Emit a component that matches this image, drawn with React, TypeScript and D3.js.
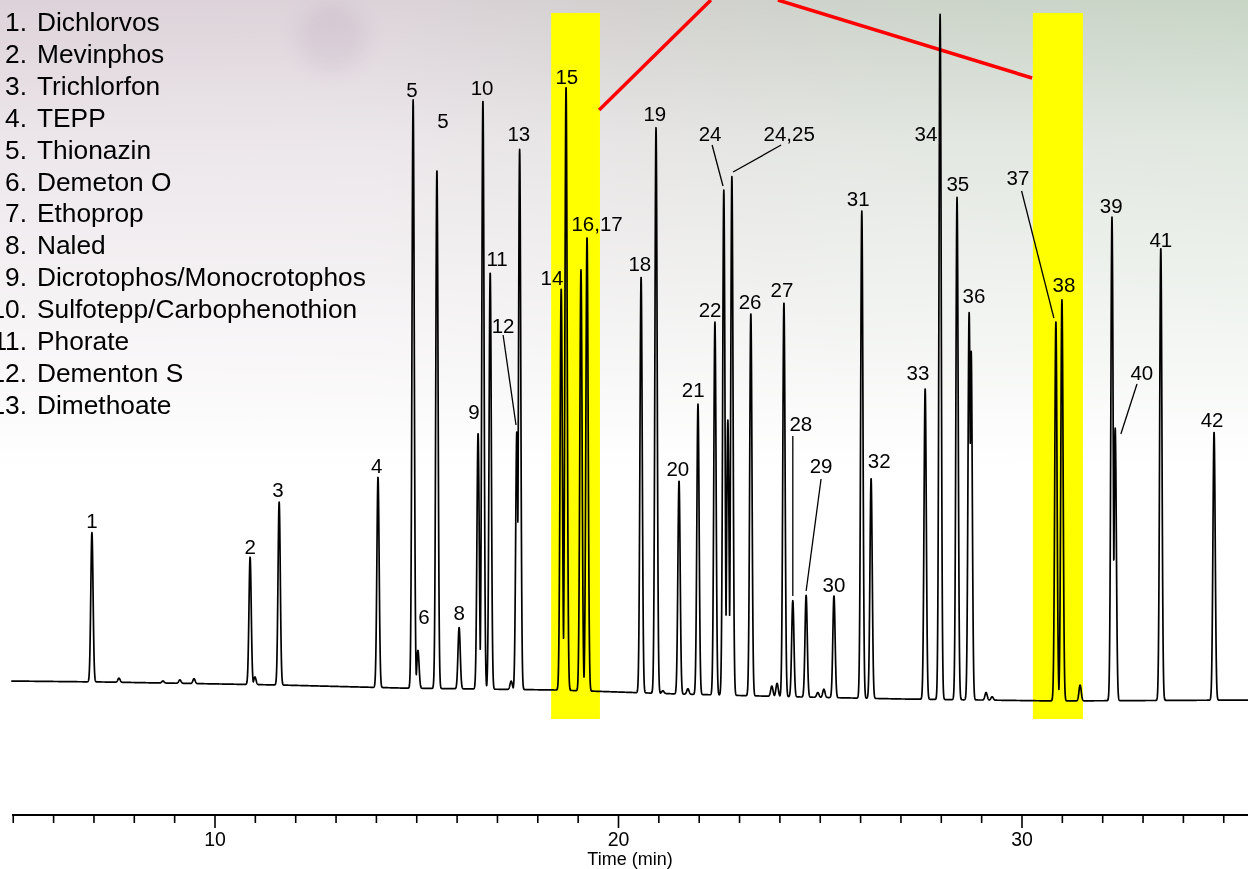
import React from 'react';
import * as d3 from 'd3';

const W = 1248;
const H = 869;

// Legend
const legendNumbers = ['1.', '2.', '3.', '4.', '5.', '6.', '7.', '8.', '9.', '10.', '11.', '12.', '13.'];
const legendNames = [
  'Dichlorvos', 'Mevinphos', 'Trichlorfon', 'TEPP', 'Thionazin', 'Demeton O', 'Ethoprop',
  'Naled', 'Dicrotophos/Monocrotophos', 'Sulfotepp/Carbophenothion', 'Phorate', 'Dementon S', 'Dimethoate',
];

// Chromatogram peaks: retention time (min) and height above baseline (relative response)
const peakTimes = [
  6.95, 7.62, 8.71, 9.13, 9.48, 10.87, 10.99, 11.59, 14.04, 14.91, 15.03, 15.50, 16.05,
  16.52, 16.64, 16.82, 17.34, 17.48, 17.55, 18.58, 18.70, 19.07, 19.22, 20.56, 20.93,
  21.10, 21.50, 21.72, 21.97, 22.39, 22.61, 22.71, 22.81, 23.28, 23.80, 23.93, 24.10,
  24.32, 24.65, 24.94, 25.09, 25.34, 26.03, 26.26, 27.60, 27.97, 28.39, 28.69, 28.74,
  29.11, 29.26, 30.84, 30.99, 31.44, 32.23, 32.31, 33.44, 34.76,
];
const peakHeights = [
  21.7, 0.6, 0.3, 0.5, 0.7, 18.5, 1.1, 26.6, 30.6, 85.5, 5.5, 75.4, 8.9,
  37.2, 85.6, 60.6, 1.2, 37.5, 78.5, 58.4, 87.8, 61.2, 66.0, 60.5, 82.2,
  0.4, 31.0, 0.8, 42.2, 54.2, 73.4, 40.0, 75.4, 55.6, 1.5, 1.9, 57.3,
  14.0, 14.8, 0.7, 1.2, 14.8, 70.8, 32.0, 45.2, 99.6, 73.0, 56.3, 50.8,
  1.1, 0.5, 55.2, 58.3, 2.3, 70.3, 39.6, 65.8, 39.0,
];
const peakSigma = 0.028;

// Baseline drift
const baselineTimes = [4.9, 7.2, 11.6, 14.6, 18.5, 21.5, 24.5, 27.0, 30.8, 35.7];
const baselineValues = [3.05, 2.91, 2.47, 2.03, 1.74, 1.16, 0.73, 0.44, 0.15, 0.29];

// Peak labels: text, time, value (baseline of text)
const labelTexts = [
  '1', '2', '3', '4', '5', '5', '6', '8', '9', '10', '11', '12', '13', '14', '15', '16,17',
  '18', '19', '20', '21', '22', '24', '24,25', '26', '27', '28', '29', '30', '31', '32',
  '33', '34', '35', '36', '37', '38', '39', '40', '41', '42',
];
const labelTimes = [
  6.95, 10.87, 11.56, 14.01, 14.88, 15.65, 15.18, 16.05, 16.42, 16.62, 16.99, 17.14, 17.53, 18.35, 18.72, 19.47,
  20.53, 20.90, 21.47, 21.85, 22.27, 22.27, 24.23, 23.26, 24.05, 24.52, 25.02, 25.34, 25.94, 26.46,
  27.42, 27.62, 28.41, 28.81, 29.90, 31.04, 32.21, 32.97, 33.44, 34.71,
];
const labelValues = [
  25.29, 21.51, 29.80, 33.28, 87.94, 83.43, 11.34, 11.92, 41.13, 88.23, 63.37, 53.63, 81.54, 60.61, 89.83, 68.46,
  62.65, 84.45, 32.85, 44.33, 55.96, 81.54, 81.54, 57.12, 58.87, 39.39, 33.28, 15.99, 72.09, 34.01,
  46.80, 81.54, 74.27, 57.99, 75.15, 59.59, 71.08, 46.80, 66.13, 39.97,
];

// Leader lines from labels to peaks: [t1, v1, t2, v2]
const leaderLines = [
  [17.14, 53.34, 17.46, 40.26],
  [22.32, 80.96, 22.59, 75.0],
  [24.03, 80.96, 22.84, 77.03],
  [24.32, 38.66, 24.32, 15.41],
  [25.02, 32.41, 24.65, 16.13],
  [29.99, 74.27, 30.79, 55.81],
  [32.85, 46.22, 32.45, 38.95],
];

// Highlight bands (time ranges) and their vertical extent
const bandStarts = [18.33, 30.27];
const bandEnds = [19.54, 31.51];
const bandValueRange = [-2.47, 100.15];

// Red callout lines: [t1, v1, t2, v2]
const redLines = [
  [19.52, 86.05, 22.29, 102.03],
  [23.95, 102.03, 30.25, 90.70],
];

// Axis
const axisTicks = d3.range(5, 36, 1);
const axisMajor = [10, 20, 30];
const axisTitle = 'Time (min)';

const FONT = '"Liberation Sans", Arial, Helvetica, sans-serif';

export default function App() {
  const x = d3.scaleLinear().domain([5, 35]).range([13.25, 1223.75]);
  const y = d3.scaleLinear().domain([0, 100]).range([702, 14]);
  const base = d3.scaleLinear().domain(baselineTimes).range(baselineValues);

  const times = d3.range(4.95, 35.65, 0.004);
  const trace = times.map((t) => {
    let m = 0;
    for (let i = 0; i < peakTimes.length; i++) {
      const d = (t - peakTimes[i]) / peakSigma;
      if (d > -7 && d < 7) {
        const g = peakHeights[i] * Math.exp(-0.5 * d * d);
        if (g > m) m = g;
      }
    }
    return [t, base(t) + m] as [number, number];
  });
  const line = d3.line<[number, number]>().x((d) => x(d[0])).y((d) => y(d[1]));
  const axisY = 815;

  return (
    <svg
      width={W}
      height={H}
      viewBox={`0 0 ${W} ${H}`}
      style={{ position: 'absolute', left: 0, top: 0, display: 'block', background: '#fff' }}
    >
      <defs>
        <linearGradient id="bgH" x1="0" x2="1" y1="0" y2="0">
          <stop offset="0" stopColor="#ddd2d9" />
          <stop offset="0.3" stopColor="#dcd3d9" />
          <stop offset="0.5" stopColor="#d3d0cf" />
          <stop offset="0.68" stopColor="#cdd3ca" />
          <stop offset="1" stopColor="#c8d6c6" />
        </linearGradient>
        <linearGradient id="fadeV" x1="0" x2="0" y1="0" y2="1">
          <stop offset="0" stopColor="#fff" stopOpacity="1" />
          <stop offset="0.3" stopColor="#fff" stopOpacity="0.55" />
          <stop offset="1" stopColor="#fff" stopOpacity="0" />
        </linearGradient>
        <mask id="fadeMask">
          <rect x={0} y={0} width={W} height={470} fill="url(#fadeV)" />
        </mask>
        <filter id="blur" x="-50%" y="-50%" width="200%" height="200%">
          <feGaussianBlur stdDeviation="9" />
        </filter>
      </defs>

      <rect x={0} y={0} width={W} height={H} fill="#fff" />
      <g mask="url(#fadeMask)">
        <rect x={0} y={0} width={W} height={470} fill="url(#bgH)" />
        <circle cx={332} cy={38} r={34} fill="#bfaebf" opacity={0.35} filter="url(#blur)" />
      </g>

      {bandStarts.map((s, i) => (
        <rect
          key={'band' + i}
          x={x(s)}
          y={y(bandValueRange[1])}
          width={x(bandEnds[i]) - x(s)}
          height={y(bandValueRange[0]) - y(bandValueRange[1])}
          fill="#ffff00"
        />
      ))}

      {redLines.map((r, i) => (
        <line
          key={'red' + i}
          x1={x(r[0])}
          y1={y(r[1])}
          x2={x(r[2])}
          y2={y(r[3])}
          stroke="#ff0000"
          strokeWidth={3.5}
        />
      ))}

      <path d={line(trace) || ''} fill="none" stroke="#000" strokeWidth={1.7} strokeLinejoin="round" />

      {leaderLines.map((l, i) => (
        <line
          key={'lead' + i}
          x1={x(l[0])}
          y1={y(l[1])}
          x2={x(l[2])}
          y2={y(l[3])}
          stroke="#000"
          strokeWidth={1.3}
        />
      ))}

      <g fontFamily={FONT} fontSize={20.5} fill="#000" textAnchor="middle">
        {labelTexts.map((t, i) => (
          <text key={'lab' + i} x={x(labelTimes[i])} y={y(labelValues[i])}>
            {t}
          </text>
        ))}
      </g>

      <g fontFamily={FONT} fontSize={26.3} fill="#000">
        {legendNames.map((n, i) => (
          <g key={'leg' + i}>
            <text x={27} y={31 + 31.9 * i} textAnchor="end">
              {legendNumbers[i]}
            </text>
            <text x={37} y={31 + 31.9 * i}>
              {n}
            </text>
          </g>
        ))}
      </g>

      <g>
        <line x1={12} x2={W} y1={axisY} y2={axisY} stroke="#000" strokeWidth={2} />
        {axisTicks.map((t) => (
          <line
            key={'tk' + t}
            x1={x(t)}
            x2={x(t)}
            y1={axisY}
            y2={axisY + (axisMajor.includes(t) ? 13 : 8)}
            stroke="#000"
            strokeWidth={1.6}
          />
        ))}
        {axisMajor.map((t) => (
          <text key={'tl' + t} x={x(t)} y={axisY + 31} textAnchor="middle" fontFamily={FONT} fontSize={19.5}>
            {t}
          </text>
        ))}
        <text x={630} y={865} textAnchor="middle" fontFamily={FONT} fontSize={18}>
          {axisTitle}
        </text>
      </g>
    </svg>
  );
}
